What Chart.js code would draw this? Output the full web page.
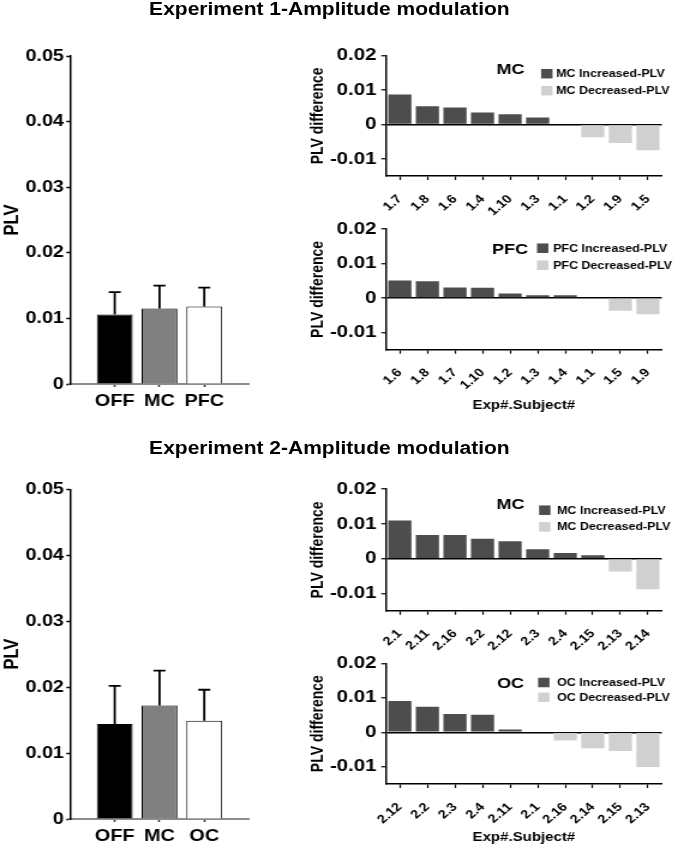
<!DOCTYPE html>
<html><head><meta charset="utf-8">
<script src="https://cdn.jsdelivr.net/npm/chart.js@4.4.1/dist/chart.umd.min.js"></script>
<style>
html,body{margin:0;padding:0;background:#fff;}
body{width:675px;height:849px;overflow:hidden;position:relative;}
#fig{position:absolute;left:0;top:0;width:562.5px;height:849px;transform:scaleX(1.2);transform-origin:0 0;font-family:"Liberation Sans",Arial,sans-serif;}
.title{position:absolute;left:0;width:549px;text-align:center;font-weight:bold;font-size:17.5px;line-height:18px;color:#000;white-space:nowrap;}
.box{position:absolute;}
canvas{display:block;}
</style></head><body>
<div id="fig">
  <div class="title" style="top:0px">Experiment 1-Amplitude modulation</div>
  <div class="title" style="top:439px">Experiment 2-Amplitude modulation</div>
  <div class="box" style="left:0px;top:40px"><canvas id="cA" width="217" height="380"></canvas></div>
  <div class="box" style="left:0px;top:470px"><canvas id="cF" width="217" height="379"></canvas></div>
  <div class="box" style="left:250px;top:40px"><canvas id="cB" width="313" height="185"></canvas></div>
  <div class="box" style="left:250px;top:215px"><canvas id="cC" width="313" height="205"></canvas></div>
  <div class="box" style="left:250px;top:475px"><canvas id="cD" width="313" height="180"></canvas></div>
  <div class="box" style="left:250px;top:648px"><canvas id="cE" width="313" height="201"></canvas></div>
</div>
<script>
// ---------- data ----------
const exp1Groups = ['OFF', 'MC', 'PFC'];
const exp1Mean   = [0.0106, 0.0115, 0.0118];
const exp1Err    = [0.0034, 0.0035, 0.0029];

const exp2Groups = ['OFF', 'MC', 'OC'];
const exp2Mean   = [0.0144, 0.0172, 0.0149];
const exp2Err    = [0.0058, 0.0053, 0.0047];

const mc1Subjects  = ['1.7', '1.8', '1.6', '1.4', '1.10', '1.3', '1.1', '1.2', '1.9', '1.5'];
const mc1Diff      = [0.0087, 0.0053, 0.0049, 0.0035, 0.0030, 0.0020, 0, -0.0037, -0.0054, -0.0075];
const pfc1Subjects = ['1.6', '1.8', '1.7', '1.10', '1.2', '1.3', '1.4', '1.1', '1.5', '1.9'];
const pfc1Diff     = [0.0051, 0.0049, 0.0031, 0.0030, 0.0013, 0.0008, 0.0008, 0.0002, -0.0037, -0.0047];
const mc2Subjects  = ['2.1', '2.11', '2.16', '2.2', '2.12', '2.3', '2.4', '2.15', '2.13', '2.14'];
const mc2Diff      = [0.0110, 0.0068, 0.0068, 0.0057, 0.0050, 0.0027, 0.0016, 0.0010, -0.0037, -0.0088];
const oc2Subjects  = ['2.12', '2.2', '2.3', '2.4', '2.11', '2.1', '2.16', '2.14', '2.15', '2.13'];
const oc2Diff      = [0.0091, 0.0074, 0.0053, 0.0051, 0.0008, 0, -0.0024, -0.0046, -0.0054, -0.0101];

// ---------- styling ----------
const FONT = '"Liberation Sans", Arial, sans-serif';
Chart.defaults.font.family = FONT;
Chart.defaults.color = '#000';
const groupColors = ['#000000', '#808080', '#ffffff'];
const incColor = '#4d4d4d';
const decColor = '#d0d0d0';
const fmtTick = v => (Math.abs(v) < 1e-9 ? '0' : String(+v.toFixed(2)));

const errorBars = {
  id: 'errorBars',
  afterDatasetsDraw(chart, args, o) {
    const ctx = chart.ctx;
    chart.data.datasets.forEach((ds, di) => {
      if (!ds.errors) return;
      const meta = chart.getDatasetMeta(di);
      const ys = chart.scales[meta.yAxisID];
      meta.data.forEach((bar, i) => {
        const v = ds.data[i], e = ds.errors[i];
        if (v == null || e == null) return;
        const y0 = ys.getPixelForValue(v), y1 = ys.getPixelForValue(v + e);
        ctx.save();
        ctx.strokeStyle = o.color; ctx.lineWidth = o.width;
        ctx.beginPath();
        ctx.moveTo(bar.x, y0); ctx.lineTo(bar.x, y1);
        ctx.moveTo(bar.x - o.cap, y1); ctx.lineTo(bar.x + o.cap, y1);
        ctx.stroke();
        ctx.restore();
      });
    });
  }
};

const boxLegend = {
  id: 'boxLegend',
  afterDraw(chart, args, o) {
    const ctx = chart.ctx, a = chart.chartArea;
    ctx.save();
    ctx.fillStyle = '#000';
    ctx.font = 'bold 15px ' + FONT;
    ctx.textAlign = 'center'; ctx.textBaseline = 'middle';
    ctx.fillText(o.title, a.left + o.titleX, a.top + o.titleY);
    ctx.font = 'bold 10.4px ' + FONT;
    ctx.textAlign = 'left';
    const rows = [o.rowA, o.rowB];
    chart.data.datasets.forEach((ds, i) => {
      const y = a.top + rows[i];
      ctx.fillStyle = ds.backgroundColor;
      ctx.fillRect(a.left + o.boxX, y - 4.75, 9.5, 9.5);
      ctx.fillStyle = '#000';
      ctx.fillText(ds.label, a.left + o.textX, y + 0.5);
    });
    ctx.restore();
  }
};

function groupChart(id, groups, means, errs, cfg) {
  const labels = [''].concat(groups, ['']);
  const data = [null].concat(means, [null]);
  const errors = [null].concat(errs, [null]);
  const colors = ['transparent'].concat(groupColors, ['transparent']);
  new Chart(document.getElementById(id), {
    type: 'bar',
    data: { labels, datasets: [{ data, errors, backgroundColor: colors, borderColor: '#000', borderWidth: 1,
      categoryPercentage: 1, barPercentage: 0.8 }] },
    options: {
      responsive: false, animation: false,
      layout: { padding: { top: cfg.padTop, right: 9.5, left: 0, bottom: 0 } },
      plugins: { legend: { display: false }, tooltip: { enabled: false },
        errorBars: { color: '#000', width: 1.8, cap: 5 } },
      scales: {
        x: {
          offset: false,
          grid: { offset: false, drawOnChartArea: false, tickLength: 3, tickWidth: 1.5,
            tickColor: c => (c.tick && c.tick.label ? '#333' : 'transparent') },
          border: { color: '#8c8c8c', width: 2 },
          ticks: { autoSkip: false, maxRotation: 0, padding: 5, color: '#000',
            font: { size: 16.5, weight: 'bold' } },
          afterFit: s => { s.height = cfg.xH; }
        },
        y: {
          min: 0, max: 0.05,
          ticks: { stepSize: 0.01, callback: fmtTick, padding: 2, color: '#000',
            font: { size: 16.5, weight: 'bold' } },
          grid: { drawOnChartArea: false, tickLength: 3, tickWidth: 1.5, tickColor: '#000' },
          border: { color: '#000', width: 1.5 },
          title: { display: true, text: 'PLV', color: '#000', font: { size: 16.5, weight: 'bold' },
            padding: { top: 0.5, bottom: 0 } },
          afterFit: s => { s.width = 58.3; }
        }
      }
    },
    plugins: [errorBars]
  });
}

function diffChart(id, subjects, diffs, region, cfg) {
  const inc = diffs.map(v => (v > 0 ? v : null));
  const dec = diffs.map(v => (v < 0 ? v : null));
  new Chart(document.getElementById(id), {
    type: 'bar',
    data: { labels: subjects, datasets: [
      { label: region + ' Increased-PLV', data: inc, backgroundColor: incColor, grouped: false,
        categoryPercentage: 1, barPercentage: 0.84 },
      { label: region + ' Decreased-PLV', data: dec, backgroundColor: decColor, grouped: false,
        categoryPercentage: 1, barPercentage: 0.84 }
    ] },
    options: {
      responsive: false, animation: false,
      layout: { padding: { top: cfg.padTop, right: 11.6, left: 0, bottom: 0 } },
      plugins: { legend: { display: false }, tooltip: { enabled: false },
        boxLegend: Object.assign({ title: region }, cfg.legend) },
      scales: {
        x: {
          offset: true,
          grid: { offset: false, drawOnChartArea: false, tickLength: 4, tickWidth: 1.2, tickColor: '#000' },
          border: { color: '#000', width: 1.5 },
          ticks: { autoSkip: false, minRotation: 45, maxRotation: 45, padding: 12, color: '#000',
            font: { size: 12, weight: 'bold' } },
          title: cfg.xTitle ? { display: true, text: 'Exp#.Subject#', color: '#000',
            font: { size: 12.5, weight: 'bold' }, padding: { top: 0, bottom: cfg.xTitlePad } } : { display: false },
          afterFit: s => { s.height = cfg.xH; }
        },
        y: {
          min: -0.015, max: 0.02,
          ticks: { stepSize: 0.01, includeBounds: false, callback: fmtTick, padding: 4, color: '#000',
            font: { size: 17, weight: 'bold' } },
          grid: { drawOnChartArea: true, lineWidth: 1.5,
            color: c => (c.tick && Math.abs(c.tick.value) < 1e-9 ? '#000' : 'transparent'),
            tickLength: 4, tickWidth: 1.2, tickColor: '#000' },
          border: { color: '#000', width: 1.5 },
          title: { display: true, text: 'PLV difference', color: '#000', font: { size: 14, weight: 'bold' },
            padding: { top: 6.6, bottom: 0 } },
          afterFit: s => { s.width = 71.7; }
        }
      }
    },
    plugins: [boxLegend]
  });
}

groupChart('cA', exp1Groups, exp1Mean, exp1Err, { padTop: 16, xH: 36 });
groupChart('cF', exp2Groups, exp2Mean, exp2Err, { padTop: 19.3, xH: 30 });

diffChart('cB', mc1Subjects, mc1Diff, 'MC', { padTop: 15.7, xH: 49, xTitle: false,
  legend: { titleX: 103.75, titleY: 14.3, boxX: 129.2, textX: 141.7, rowA: 18, rowB: 35 } });
diffChart('cC', pfc1Subjects, pfc1Diff, 'PFC', { padTop: 14, xH: 70.3, xTitle: true, xTitlePad: 7,
  legend: { titleX: 103.3, titleY: 21, boxX: 125.8, textX: 139.2, rowA: 19, rowB: 36 } });
diffChart('cD', mc2Subjects, mc2Diff, 'MC', { padTop: 14, xH: 44.3, xTitle: false,
  legend: { titleX: 103.75, titleY: 16, boxX: 127.5, textX: 142.5, rowA: 21, rowB: 37.7 } });
diffChart('cE', oc2Subjects, oc2Diff, 'OC', { padTop: 15.3, xH: 65, xTitle: true, xTitlePad: 4,
  legend: { titleX: 103.75, titleY: 20.7, boxX: 126.7, textX: 142.5, rowA: 19.2, rowB: 34 } });
</script>
</body></html>
